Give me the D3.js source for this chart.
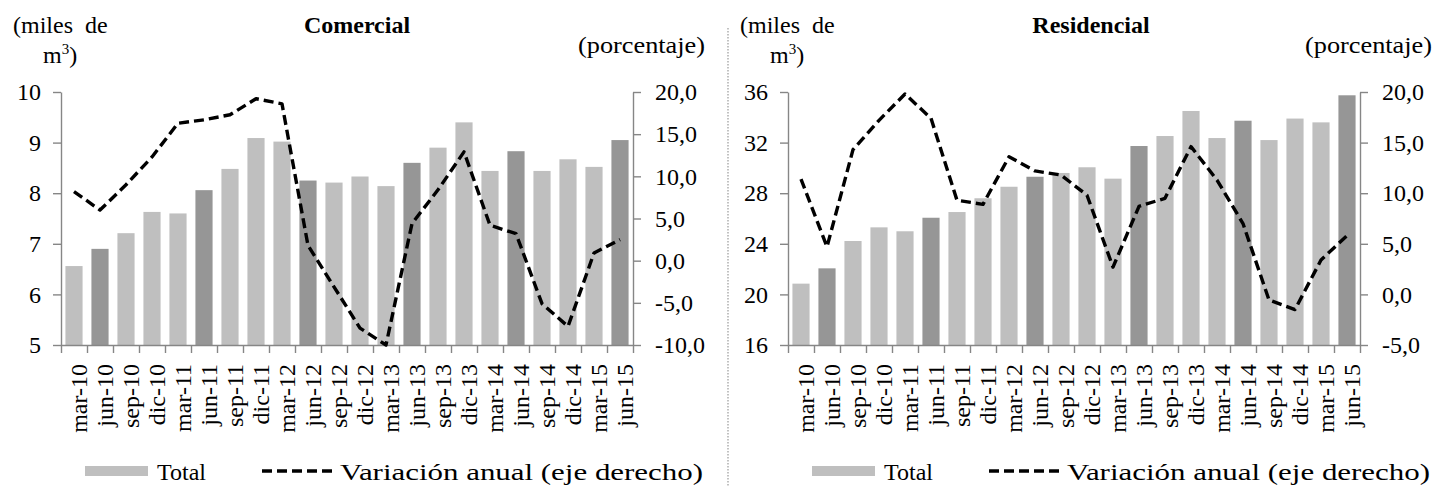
<!DOCTYPE html>
<html><head><meta charset="utf-8">
<script src="https://cdn.jsdelivr.net/npm/d3@7"></script>
<style>
html,body{margin:0;padding:0;background:#fff;}
svg text{font-family:"Liberation Serif","Times New Roman",Tinos,"DejaVu Serif",serif !important;fill:#000;}
</style></head>
<body>
<svg id="chart" width="1436" height="487"></svg>
<script>
const categories = ["mar-10","jun-10","sep-10","dic-10","mar-11","jun-11","sep-11","dic-11","mar-12","jun-12","sep-12","dic-12","mar-13","jun-13","sep-13","dic-13","mar-14","jun-14","sep-14","dic-14","mar-15","jun-15"];
const comercialTotal = [6.56,6.90,7.21,7.63,7.60,8.06,8.48,9.09,9.02,8.25,8.21,8.33,8.14,8.60,8.90,9.40,8.44,8.83,8.44,8.67,8.52,9.05];
const comercialVar = [8.2,6.0,9.0,12.3,16.3,16.7,17.3,19.2,18.6,1.8,-3.1,-8.0,-10.0,4.4,8.4,12.9,4.2,3.2,-5.1,-7.8,0.9,2.5];
const residencialTotal = [20.85,22.06,24.22,25.3,24.99,26.06,26.51,27.6,28.51,29.3,29.6,30.05,29.15,31.73,32.52,34.5,32.36,33.73,32.2,33.9,33.6,35.74];
const residencialVar = [11.4,4.7,14.3,17.2,19.8,17.4,9.3,8.9,13.6,12.2,11.8,9.8,2.7,8.7,9.5,14.6,11.3,7.0,-0.55,-1.5,3.4,5.8];
const comercialLeftTicks = [5,6,7,8,9,10];
const comercialRightTicks = [-10,-5,0,5,10,15,20];
const residencialLeftTicks = [16,20,24,28,32,36];
const residencialRightTicks = [-5,0,5,10,15,20];
const titles = ["Comercial","Residencial"];
const leftUnit = ["(miles  de","m","3",")"];
const rightUnit = "(porcentaje)";
const legendLabels = ["Total","Variación anual (eje derecho)"];

const LIGHT = "#bfbfbf", DARK = "#969696", AXIS = "#868686";
const svg = d3.select("#chart");
const fmtR = v => d3.format(".1f")(v).replace("\u2212","-").replace(".",",");

function panel(ox, title, totals, vars, lTicks, rTicks, titleX) {
  const g = svg.append("g").attr("transform", `translate(${ox},0)`);
  const x0 = 61, x1 = 633, yT = 92, yB = 345;
  const x = d3.scaleBand().domain(categories).range([x0, x1]).paddingInner(0.34).paddingOuter(0.17);
  const xb = d3.scaleLinear().domain([0, categories.length]).range([x0, x1]);
  const yL = d3.scaleLinear().domain(d3.extent(lTicks)).range([yB, yT]);
  const yR = d3.scaleLinear().domain(d3.extent(rTicks)).range([yB, yT]);

  g.selectAll("rect.bar").data(totals).join("rect")
    .attr("x", (d,i) => x(categories[i]))
    .attr("width", x.bandwidth())
    .attr("y", d => yL(d))
    .attr("height", d => yB - yL(d))
    .attr("fill", (d,i) => categories[i].startsWith("jun") ? DARK : LIGHT);

  const styleAxis = sel => {
    sel.attr("font-family", null).attr("font-size", null);
    sel.select(".domain").attr("stroke", AXIS).attr("stroke-width", 1.4);
    sel.selectAll(".tick line").attr("stroke", AXIS).attr("stroke-width", 1.4);
    sel.selectAll(".tick text").style("font-size", "24px").attr("fill", "#000");
  };
  g.append("g").attr("transform", `translate(${x0},0)`)
    .call(d3.axisLeft(yL).tickValues(lTicks).tickSize(8).tickSizeOuter(0).tickPadding(12).tickFormat(d => d))
    .call(styleAxis);
  g.append("g").attr("transform", `translate(${x1},0)`)
    .call(d3.axisRight(yR).tickValues(rTicks).tickSize(8).tickSizeOuter(0).tickPadding(14).tickFormat(fmtR))
    .call(styleAxis);
  g.append("g").attr("transform", `translate(0,${yB})`)
    .call(d3.axisBottom(xb).tickValues(d3.range(categories.length + 1)).tickSize(8).tickSizeOuter(0).tickFormat(""))
    .call(styleAxis);

  g.selectAll("text.xl").data(categories).join("text")
    .attr("class","xl")
    .attr("transform", d => `translate(${x(d) + x.bandwidth()/2 + 5},364) rotate(-90)`)
    .attr("text-anchor","end").attr("dy","0.35em")
    .style("font-size","24px").text(d => d);

  const line = d3.line().x((d,i) => x(categories[i]) + x.bandwidth()/2).y(d => yR(d));
  g.append("path").datum(vars).attr("d", line)
    .attr("fill","none").attr("stroke","#000").attr("stroke-width",3.4)
    .attr("stroke-dasharray","10,5").attr("stroke-linejoin","round");

  g.append("text").attr("x", titleX).attr("y", 33).attr("text-anchor","middle")
    .style("font-size","24px").style("font-weight","bold").text(title);
  g.append("text").attr("x", 13).attr("y", 33).style("font-size","24px").style("white-space","pre").text(leftUnit[0]);
  const t2 = g.append("text").attr("x", 43).attr("y", 63).style("font-size","24px");
  t2.append("tspan").text(leftUnit[1]);
  t2.append("tspan").attr("dy",-9).style("font-size","15px").text(leftUnit[2]);
  t2.append("tspan").attr("dy",9).text(leftUnit[3]);
  g.append("text").attr("x", 578).attr("y", 53).attr("textLength", 127).attr("lengthAdjust","spacingAndGlyphs")
    .style("font-size","24px").text(rightUnit);

  g.append("rect").attr("x",85).attr("y",466).attr("width",63).attr("height",10).attr("fill",LIGHT);
  g.append("text").attr("x",157).attr("y",480).style("font-size","24px").text(legendLabels[0]);
  g.append("line").attr("x1",262).attr("x2",336).attr("y1",471).attr("y2",471)
    .attr("stroke","#000").attr("stroke-width",3.4).attr("stroke-dasharray","10,5");
  g.append("text").attr("x",340).attr("y",480).attr("textLength", 363).attr("lengthAdjust","spacingAndGlyphs")
    .style("font-size","24px").text(legendLabels[1]);
}

panel(0, titles[0], comercialTotal, comercialVar, comercialLeftTicks, comercialRightTicks, 357);
panel(727, titles[1], residencialTotal, residencialVar, residencialLeftTicks, residencialRightTicks, 364);

svg.append("line").attr("x1",728).attr("x2",728).attr("y1",28).attr("y2",487)
  .attr("stroke","#999").attr("stroke-width",1.2).attr("stroke-dasharray","1.5,1.5");
</script>
</body></html>
